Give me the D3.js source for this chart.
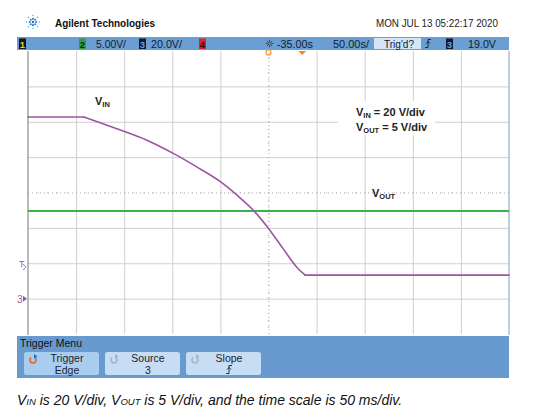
<!DOCTYPE html>
<html>
<head>
<meta charset="utf-8">
<script src="https://cdn.jsdelivr.net/npm/d3@7"></script>
<style>
  body { margin: 0; background: #fff; }
  text { font-family: "Liberation Sans", Arial, sans-serif; }
</style>
</head>
<body>
<script>
// scope capture: time in ms from left edge of screen, volts per channel
var timeMs  = [0, 58, 96, 123, 151, 175, 200, 217, 234, 250, 265, 279, 288, 500],
    vin     = [102.7, 102.7, 95.3, 89.7, 82.1, 74.6, 66.1, 58.6, 50.1, 39.7, 28.4, 18.0, 13.3, 13.3],
    voutT   = [0, 500],
    vout    = [12.4, 12.4];

var timeGrid = [50, 100, 150, 200, 250, 300, 350, 400, 450],
    voltGrid = [0, 20, 40, 60, 80, 100, 120],
    statusItems = ["5.00V/", "20.0V/", "-35.00s", "50.00s/", "Trig'd?", "19.0V"],
    buttons = [["Trigger", "Edge"], ["Source", "3"], ["Slope", ""]];

var width = 536, height = 414,
    pLeft = 28, pRight = 509, pTop = 51, pBottom = 334;

var x = d3.scaleLinear().domain([0, 500]).range([pLeft, pRight]),
    yIn = d3.scaleLinear().domain([-20, 140]).range([pBottom, pTop]),
    yOut = d3.scaleLinear().domain([-5, 35]).range([pBottom, pTop]);

var svg = d3.select("body").append("svg")
  .attr("width", width)
  .attr("height", height);

// header
var logo = svg.append("g").attr("transform", "translate(33,22)");
d3.range(8).forEach(function(i) {
  var a = i * Math.PI / 4;
  logo.append("circle").attr("cx", 3.2 * Math.cos(a)).attr("cy", 3.2 * Math.sin(a)).attr("r", 1.1).attr("fill", "#2a86d6");
  logo.append("circle").attr("cx", 6.5 * Math.cos(a)).attr("cy", 6.5 * Math.sin(a)).attr("r", 0.8).attr("fill", "#6fb3ea");
});
logo.append("circle").attr("r", 1.2).attr("fill", "#1f6fb8");

svg.append("text").attr("x", 55).attr("y", 27)
  .attr("font-size", 11.5).attr("font-weight", "bold").attr("fill", "#111")
  .attr("textLength", 100).attr("lengthAdjust", "spacingAndGlyphs")
  .text("Agilent Technologies");

svg.append("text").attr("x", 376).attr("y", 27)
  .attr("font-size", 11.5).attr("fill", "#222")
  .attr("textLength", 122).attr("lengthAdjust", "spacingAndGlyphs")
  .text("MON JUL 13 05:22:17 2020");

// status bar
svg.append("rect").attr("x", 17).attr("y", 37).attr("width", 492).attr("height", 13).attr("fill", "#6b9fd4");
svg.append("rect").attr("x", 374).attr("y", 38).attr("width", 47).attr("height", 11).attr("fill", "#d3e5f6");

var chBoxes = [
  {x: 19, n: "1", bg: "#151515", fg: "#e8d23a"},
  {x: 79, n: "2", bg: "#2f9e44", fg: "#0c2c10"},
  {x: 139, n: "3", bg: "#0d1a30", fg: "#6d9fd8"},
  {x: 199, n: "4", bg: "#d3262b", fg: "#3a0808"},
  {x: 446, n: "3", bg: "#0d1a30", fg: "#6d9fd8"}
];
chBoxes.forEach(function(b) {
  svg.append("rect").attr("x", b.x).attr("y", 38.5).attr("width", 7).attr("height", 10.5).attr("fill", b.bg);
  svg.append("text").attr("x", b.x + 3.5).attr("y", 47.5).attr("text-anchor", "middle")
    .attr("font-size", 9.5).attr("font-weight", "bold").attr("fill", b.fg).text(b.n);
});

var statusPos = [[96, 30], [151, 31], [277, 36], [333, 36], [384, 30], [468, 28]];
statusItems.forEach(function(s, i) {
  svg.append("text").attr("x", statusPos[i][0]).attr("y", 47.8)
    .attr("font-size", 11.5).attr("fill", "#10202f")
    .attr("textLength", statusPos[i][1]).attr("lengthAdjust", "spacingAndGlyphs")
    .text(s);
});
// sun icon and slope glyph
var sun = svg.append("g").attr("transform", "translate(269.5,43.5)").attr("stroke", "#1e2d3d").attr("stroke-width", 0.8).attr("fill", "none");
sun.append("circle").attr("r", 1.6);
d3.range(8).forEach(function(i) {
  var a = i * Math.PI / 4;
  sun.append("line").attr("x1", 2.4 * Math.cos(a)).attr("y1", 2.4 * Math.sin(a)).attr("x2", 3.8 * Math.cos(a)).attr("y2", 3.8 * Math.sin(a));
});
function slope(g, cx, cy) {
  g.append("path").attr("d", "M" + (cx - 3) + "," + (cy + 4) + "h3v-8h3 M" + (cx - 2) + "," + (cy) + "l2,-2l2,2")
    .attr("fill", "none").attr("stroke", "#10202f").attr("stroke-width", 0.9);
}
slope(svg, 428, 43.5);

// plot area
svg.append("rect").attr("x", pLeft).attr("y", pTop).attr("width", pRight - pLeft).attr("height", pBottom - pTop).attr("fill", "#fff");

var gx = svg.append("g").attr("class", "grid")
  .attr("transform", "translate(0," + pBottom + ")")
  .call(d3.axisBottom(x).tickValues(timeGrid).tickSize(-(pBottom - pTop)).tickFormat(""));
var gy = svg.append("g").attr("class", "grid")
  .attr("transform", "translate(" + pLeft + ",0)")
  .call(d3.axisLeft(yIn).tickValues(voltGrid).tickSize(-(pRight - pLeft)).tickFormat(""));
svg.selectAll(".grid .domain").remove();
svg.selectAll(".grid line").attr("stroke", "#cfcfcf").attr("stroke-width", 1);
gx.selectAll(".tick").filter(function(d) { return d === 250; }).select("line").attr("stroke-dasharray", "1,3").attr("stroke", "#aaa");
gy.selectAll(".tick").filter(function(d) { return d === 60; }).select("line").attr("stroke-dasharray", "1,3").attr("stroke", "#aaa");

// minor ticks on the centre lines
svg.append("g").attr("transform", "translate(0," + yIn(60) + ")")
  .call(d3.axisBottom(x).tickValues(d3.range(10, 500, 10)).tickSize(1.5).tickFormat(""))
  .call(function(g) { g.select(".domain").remove(); g.selectAll("line").attr("stroke", "#bbb").attr("transform", "translate(0,-0.75)"); });
svg.append("g").attr("transform", "translate(" + x(250) + ",0)")
  .call(d3.axisLeft(yIn).tickValues(d3.range(-16, 140, 4)).tickSize(1.5).tickFormat(""))
  .call(function(g) { g.select(".domain").remove(); g.selectAll("line").attr("stroke", "#bbb").attr("transform", "translate(0.75,0)"); });

// borders
svg.append("line").attr("x1", pLeft).attr("x2", pLeft).attr("y1", pTop).attr("y2", pBottom + 1).attr("stroke", "#8c8c8c").attr("stroke-width", 1.2);
svg.append("line").attr("x1", pRight).attr("x2", pRight).attr("y1", pTop).attr("y2", pBottom + 1).attr("stroke", "#7f9fc4").attr("stroke-width", 1);

// scale note box
svg.append("rect").attr("x", 338).attr("y", 101).attr("width", 97).attr("height", 34).attr("fill", "#fff");
function vlabel(xp, yp, sub, rest, fs) {
  var t = svg.append("text").attr("x", xp).attr("y", yp).attr("font-size", fs).attr("font-weight", "bold").attr("fill", "#222");
  t.append("tspan").text("V");
  t.append("tspan").attr("font-size", fs * 0.68).attr("dy", 2).text(sub);
  if (rest) t.append("tspan").attr("dy", -2).text(rest);
  return t;
}
vlabel(356, 116, "IN", " = 20 V/div", 11);
vlabel(356, 131, "OUT", " = 5 V/div", 11);
vlabel(95, 105, "IN", null, 11);
vlabel(372, 197, "OUT", null, 11);

// traces: flat parts straight, the fall smoothed
var lineOut = d3.line().x(function(d, i) { return x(voutT[i]); }).y(function(d) { return yOut(d); });
var pts = timeMs.map(function(t, i) { return [x(t), yIn(vin[i])]; });
var last = pts.length - 1;
var lineFlat = d3.line(),
    lineFall = d3.line().curve(d3.curveMonotoneX);

svg.append("path").attr("d", lineOut(vout)).attr("fill", "none").attr("stroke", "#3bb14a").attr("stroke-width", 2);
[lineFlat(pts.slice(0, 2)), lineFall(pts.slice(1, last)), lineFlat(pts.slice(last - 1))].forEach(function(d) {
  svg.append("path").attr("d", d).attr("fill", "none").attr("stroke", "#9d55a3")
    .attr("stroke-width", 1.6).attr("stroke-linejoin", "round").attr("stroke-linecap", "round");
});

// markers: trigger point, time reference, trigger level, ground
svg.append("circle").attr("cx", x(250)).attr("cy", pTop + 1.5).attr("r", 2.6).attr("fill", "none").attr("stroke", "#f0a040").attr("stroke-width", 1.2);
svg.append("path").attr("d", "M" + (x(285) - 4) + "," + pTop + "h8l-4,4z").attr("fill", "#f08a30");
svg.append("text").attr("x", 19).attr("y", yIn(19) + 2).attr("font-size", 9).attr("fill", "#9d55a3").text("T");
svg.append("path").attr("d", "M23," + (yIn(19) - 1) + "l3,3l-3,3").attr("fill", "none").attr("stroke", "#9d55a3").attr("stroke-width", 0.8);
svg.append("text").attr("x", 17).attr("y", yIn(0) + 4).attr("font-size", 10).attr("fill", "#9d55a3").text("3");
svg.append("path").attr("d", "M23," + (yIn(0) - 3) + "l4,3l-4,3z").attr("fill", "#9d55a3");

// trigger menu panel
svg.append("rect").attr("x", 17).attr("y", 336).attr("width", 492).attr("height", 42).attr("fill", "#6899cf");
svg.append("text").attr("x", 20).attr("y", 346.5).attr("font-size", 10.5).attr("fill", "#111").text("Trigger Menu");

var btnX = [24, 105, 186];
buttons.forEach(function(b, i) {
  var bx = btnX[i];
  svg.append("rect").attr("x", bx).attr("y", 352).attr("width", 75).attr("height", 23).attr("rx", 2.5)
    .attr("fill", i === 0 ? "#a9cdef" : "#c6ddf3");
  var icon = svg.append("g").attr("transform", "translate(" + (bx + 9) + ",360)");
  icon.append("path").attr("d", d3.arc()({innerRadius: 2.2, outerRadius: 3.8, startAngle: 0.6, endAngle: 5.6}))
    .attr("fill", i === 0 ? "#e0602a" : "#9fb4c8");
  icon.append("path").attr("d", "M1,-6l3.5,2.5l-3.5,2z").attr("fill", i === 0 ? "#2a6ec0" : "#9fb4c8");
  var cx = bx + 43;
  svg.append("text").attr("x", cx).attr("y", 362).attr("text-anchor", "middle").attr("font-size", 10.5).attr("fill", "#1a2230").text(b[0]);
  if (b[1]) svg.append("text").attr("x", cx).attr("y", 373.5).attr("text-anchor", "middle").attr("font-size", 10.5).attr("fill", "#1a2230").text(b[1]);
  else slope(svg, cx, 369.5);
});

// caption
var cap = svg.append("text").attr("x", 17).attr("y", 405).attr("font-size", 14).attr("font-style", "italic").attr("fill", "#111");
cap.append("tspan").text("V");
cap.append("tspan").attr("font-size", 9.5).text("IN");
cap.append("tspan").text(" is 20 V/div, V");
cap.append("tspan").attr("font-size", 9.5).text("OUT");
cap.append("tspan").text(" is 5 V/div, and the time scale is 50 ms/div.");
</script>
</body>
</html>
